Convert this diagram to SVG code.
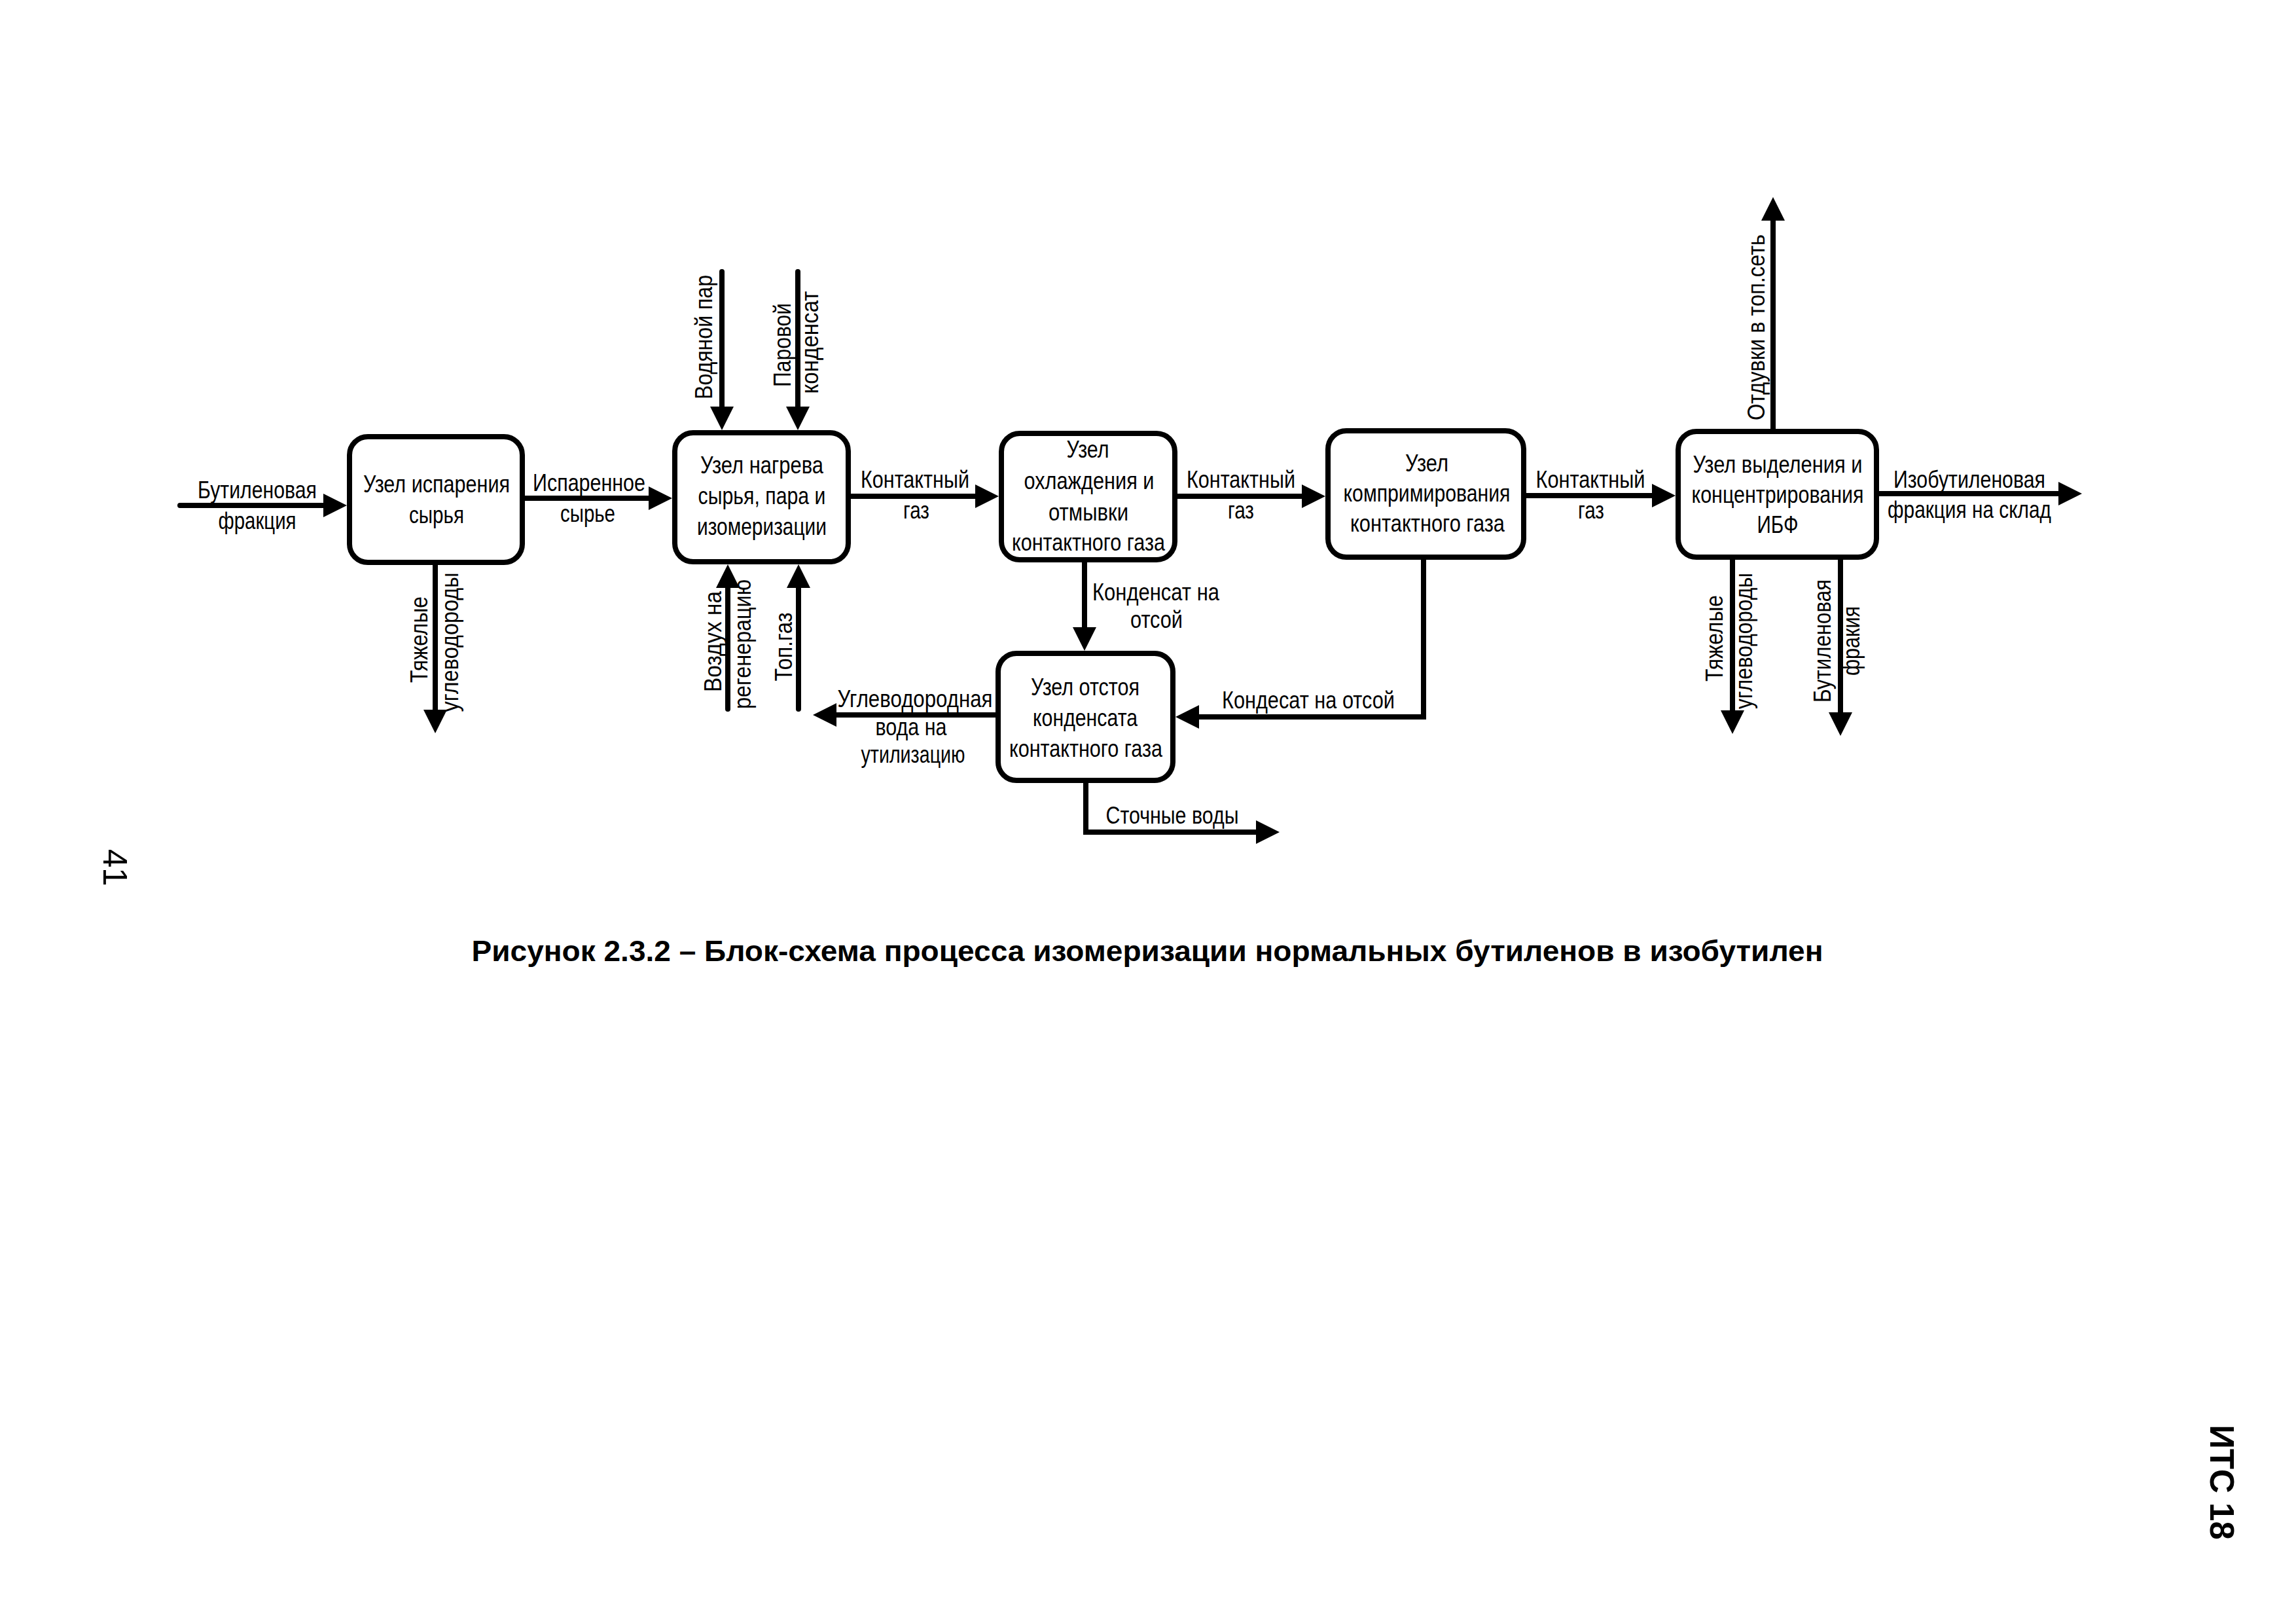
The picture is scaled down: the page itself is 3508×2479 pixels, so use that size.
<svg xmlns="http://www.w3.org/2000/svg" width="3508" height="2479" viewBox="0 0 3508 2479">
<style>
.bg{fill:#fff}
.box{fill:#fff;stroke:#000;stroke-width:8}
.ln{fill:none;stroke:#000;stroke-width:8;stroke-linecap:round;stroke-linejoin:miter;marker-end:url(#ah)}
.t{font-family:"Liberation Sans Narrow","Liberation Sans",Arial,sans-serif;font-size:36px;text-anchor:middle;fill:#000}
.cap{font-family:"Liberation Sans",Arial,sans-serif;font-size:45px;font-weight:bold;text-anchor:middle;fill:#000}
.pg{font-family:"Liberation Sans",Arial,sans-serif;font-size:51px;text-anchor:middle;fill:#000}
</style>
<defs>
<marker id="ah" markerUnits="userSpaceOnUse" markerWidth="36" markerHeight="36" refX="0" refY="18" orient="auto" viewBox="0 0 36 36">
<path d="M0,0 L36,18 L0,36 z" fill="#000"/>
</marker>
</defs>
<rect class="bg" x="0" y="0" width="3508" height="2479"/>

<g id="connectors">
<path class="ln" d="M275,772 H494"/>
<path class="ln" d="M802,761 H991"/>
<path class="ln" d="M1296,758 H1490"/>
<path class="ln" d="M1795,758 H1989"/>
<path class="ln" d="M2328,757 H2524"/>
<path class="ln" d="M2867,754 H3145"/>
<path class="ln" d="M2709,659 V337"/>
<path class="ln" d="M2647,851 V1085"/>
<path class="ln" d="M2812,851 V1088"/>
<path class="ln" d="M665,861 V1084"/>
<path class="ln" d="M1103,415 V621"/>
<path class="ln" d="M1219,415 V621"/>
<path class="ln" d="M1112,1083 V898"/>
<path class="ln" d="M1220,1083 V898"/>
<path class="ln" d="M1657,859 V958"/>
<path class="ln" d="M2175,851 V1095 H1832"/>
<path class="ln" d="M1525,1092 H1278"/>
<path class="ln" d="M1659,1194 V1271 H1919"/>
</g>

<g id="edge-labels">
<text class="t" x="393" y="761" textLength="182" lengthAdjust="spacingAndGlyphs">Бутиленовая</text>
<text class="t" x="393" y="808" textLength="119" lengthAdjust="spacingAndGlyphs">фракция</text>
<text class="t" x="900" y="750" textLength="172" lengthAdjust="spacingAndGlyphs">Испаренное</text>
<text class="t" x="898" y="797" textLength="84" lengthAdjust="spacingAndGlyphs">сырье</text>
<text class="t" x="1398" y="745" textLength="166" lengthAdjust="spacingAndGlyphs">Контактный</text>
<text class="t" x="1400" y="792" textLength="40" lengthAdjust="spacingAndGlyphs">газ</text>
<text class="t" x="1896" y="745" textLength="166" lengthAdjust="spacingAndGlyphs">Контактный</text>
<text class="t" x="1896" y="792" textLength="40" lengthAdjust="spacingAndGlyphs">газ</text>
<text class="t" x="2430" y="745" textLength="167" lengthAdjust="spacingAndGlyphs">Контактный</text>
<text class="t" x="2431" y="792" textLength="40" lengthAdjust="spacingAndGlyphs">газ</text>
<text class="t" x="3009" y="745" textLength="232" lengthAdjust="spacingAndGlyphs">Изобутиленовая</text>
<text class="t" x="3009" y="791" textLength="250" lengthAdjust="spacingAndGlyphs">фракция на склад</text>
<text class="t" x="1766" y="917" textLength="194" lengthAdjust="spacingAndGlyphs">Конденсат на</text>
<text class="t" x="1767" y="959" textLength="80" lengthAdjust="spacingAndGlyphs">отсой</text>
<text class="t" x="1999" y="1082" textLength="264" lengthAdjust="spacingAndGlyphs">Кондесат на отсой</text>
<text class="t" x="1791" y="1258" textLength="203" lengthAdjust="spacingAndGlyphs">Сточные воды</text>
<text class="t" x="1398" y="1080" textLength="237" lengthAdjust="spacingAndGlyphs">Углеводородная</text>
<text class="t" x="1392" y="1123" textLength="109" lengthAdjust="spacingAndGlyphs">вода на</text>
<text class="t" x="1395" y="1165" textLength="159" lengthAdjust="spacingAndGlyphs">утилизацию</text>
<text class="t" x="653" y="977" textLength="132" lengthAdjust="spacingAndGlyphs" transform="rotate(-90 653 977)">Тяжелые</text>
<text class="t" x="700" y="981" textLength="213" lengthAdjust="spacingAndGlyphs" transform="rotate(-90 700 981)">углеводороды</text>
<text class="t" x="1088" y="515" textLength="190" lengthAdjust="spacingAndGlyphs" transform="rotate(-90 1088 515)">Водяной пар</text>
<text class="t" x="1208" y="527" textLength="128" lengthAdjust="spacingAndGlyphs" transform="rotate(-90 1208 527)">Паровой</text>
<text class="t" x="1250" y="523" textLength="157" lengthAdjust="spacingAndGlyphs" transform="rotate(-90 1250 523)">конденсат</text>
<text class="t" x="1102" y="980" textLength="154" lengthAdjust="spacingAndGlyphs" transform="rotate(-90 1102 980)">Воздух на</text>
<text class="t" x="1147" y="984" textLength="198" lengthAdjust="spacingAndGlyphs" transform="rotate(-90 1147 984)">регенерацию</text>
<text class="t" x="1210" y="988" textLength="105" lengthAdjust="spacingAndGlyphs" transform="rotate(-90 1210 988)">Топ.газ</text>
<text class="t" x="2696" y="500" textLength="284" lengthAdjust="spacingAndGlyphs" transform="rotate(-90 2696 500)">Отдувки в топ.сеть</text>
<text class="t" x="2632" y="975" textLength="132" lengthAdjust="spacingAndGlyphs" transform="rotate(-90 2632 975)">Тяжелые</text>
<text class="t" x="2677" y="979" textLength="208" lengthAdjust="spacingAndGlyphs" transform="rotate(-90 2677 979)">углеводороды</text>
<text class="t" x="2797" y="979" textLength="188" lengthAdjust="spacingAndGlyphs" transform="rotate(-90 2797 979)">Бутиленовая</text>
<text class="t" x="2841" y="979" textLength="106" lengthAdjust="spacingAndGlyphs" transform="rotate(-90 2841 979)">фракия</text>
</g>

<g id="node-isp">
<rect class="box" x="534" y="667" width="264" height="192" rx="28"/>
<text class="t" x="667" y="752" textLength="224" lengthAdjust="spacingAndGlyphs">Узел испарения</text>
<text class="t" x="667" y="799" textLength="84" lengthAdjust="spacingAndGlyphs">сырья</text>
</g>
<g id="node-nagrev">
<rect class="box" x="1031" y="661" width="265" height="197" rx="28"/>
<text class="t" x="1164" y="723" textLength="188" lengthAdjust="spacingAndGlyphs">Узел нагрева</text>
<text class="t" x="1164" y="770" textLength="195" lengthAdjust="spacingAndGlyphs">сырья, пара и</text>
<text class="t" x="1164" y="817" textLength="198" lengthAdjust="spacingAndGlyphs">изомеризации</text>
</g>
<g id="node-ohl">
<rect class="box" x="1530" y="662" width="265" height="193" rx="28"/>
<text class="t" x="1662" y="699" textLength="65" lengthAdjust="spacingAndGlyphs">Узел</text>
<text class="t" x="1664" y="747" textLength="199" lengthAdjust="spacingAndGlyphs">охлаждения и</text>
<text class="t" x="1663" y="795" textLength="122" lengthAdjust="spacingAndGlyphs">отмывки</text>
<text class="t" x="1663" y="841" textLength="234" lengthAdjust="spacingAndGlyphs">контактного газа</text>
</g>
<g id="node-komp">
<rect class="box" x="2029" y="658" width="299" height="193" rx="28"/>
<text class="t" x="2180" y="720" textLength="66" lengthAdjust="spacingAndGlyphs">Узел</text>
<text class="t" x="2180" y="766" textLength="255" lengthAdjust="spacingAndGlyphs">компримирования</text>
<text class="t" x="2181" y="812" textLength="236" lengthAdjust="spacingAndGlyphs">контактного газа</text>
</g>
<g id="node-otst">
<rect class="box" x="1525" y="998" width="267" height="194" rx="28"/>
<text class="t" x="1658" y="1062" textLength="166" lengthAdjust="spacingAndGlyphs">Узел отстоя</text>
<text class="t" x="1658" y="1109" textLength="160" lengthAdjust="spacingAndGlyphs">конденсата</text>
<text class="t" x="1659" y="1156" textLength="234" lengthAdjust="spacingAndGlyphs">контактного газа</text>
</g>
<g id="node-vyd">
<rect class="box" x="2564" y="659" width="303" height="192" rx="28"/>
<text class="t" x="2716" y="722" textLength="259" lengthAdjust="spacingAndGlyphs">Узел выделения и</text>
<text class="t" x="2716" y="768" textLength="263" lengthAdjust="spacingAndGlyphs">концентрирования</text>
<text class="t" x="2716" y="814" textLength="63" lengthAdjust="spacingAndGlyphs">ИБФ</text>
</g>

<text class="cap" x="1753" y="1468" textLength="2065" lengthAdjust="spacingAndGlyphs">Рисунок 2.3.2 – Блок-схема процесса изомеризации нормальных бутиленов в изобутилен</text>
<text class="pg" x="158" y="1325" transform="rotate(90 158 1325)">41</text>
<text class="pg" x="3377" y="2264" font-weight="bold" transform="rotate(90 3377 2264)">ИТС 18</text>
</svg>
